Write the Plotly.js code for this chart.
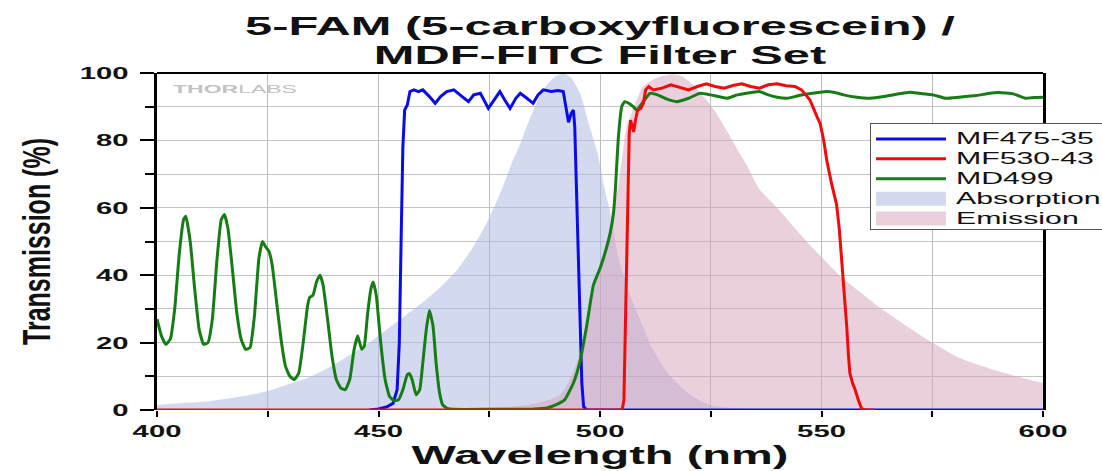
<!DOCTYPE html>
<html><head><meta charset="utf-8">
<script src="https://cdn.plot.ly/plotly-3.0.1.min.js"></script>
<style>html,body{margin:0;padding:0;background:#fff;}#chart{width:1102px;height:471px;}</style>
</head><body><div id="chart"></div>
<script>
// ---- data: [wavelength nm, value %] ----
const absorption = [[400,1.5],[405,2],[411,2.5],[415,3.2],[419,4],[423,5],[426,6],[430,7.8],[434,9.5],[438,12],[441,14.3],[445,17.5],[449,21],[453,25],[456,28],[460,32],[464,36.5],[468,42],[471.4,48.5],[475,57],[478,66],[480,73],[482,79],[484,86],[486,92],[488,96.5],[490,99],[491.7,100],[493.5,98.5],[495.5,94],[497.7,84],[499.5,76],[501,66],[502.6,57],[504,46],[506,37],[508,30],[509.7,24.7],[511.5,19],[513.5,14.5],[515.5,10.5],[517.3,8],[519,6],[521,4],[523,2.5],[524.8,1.5],[528,0.8],[535,0.3],[545,0.1],[560,0],[600,0]];
const emission = [[400,0],[440,0],[460,0.2],[470,0.4],[475,0.6],[480,1],[485,1.8],[488,2.8],[491,4.5],[493.2,9],[495.5,17],[497,25],[498.5,34.6],[500,43],[502,53],[503.8,64],[505,75],[506,84],[508,91],[509.7,96],[512,98],[514,99],[516.5,99.6],[518.5,99],[520.5,97],[522,95],[524,92],[526.3,88],[529,82],[531.6,76],[533,73],[536,65.5],[540,60],[543.6,54.5],[547,49.5],[550.3,45],[554,40],[558.7,35],[563,30.5],[568,26],[575,20],[581,15.5],[588.7,12],[594,10],[600,8]];
const mf475 = [[448,0],[450,0.3],[452,1],[453.3,2],[454.2,6],[454.7,20],[455.1,50],[455.5,78],[455.9,89],[456.5,90.5],[457.1,94.5],[458,95],[459,94.5],[460,95],[461.5,93],[462.8,91],[464,93],[465.4,94.5],[467,95],[468.5,93.5],[470.3,91.5],[471.5,93.5],[473,94],[474.8,89.5],[476,92],[477.4,94.5],[478.5,92],[479.7,89.5],[481,92.5],[482,94],[483.5,92.5],[484.9,91],[486,93.5],[487.2,95],[489,94.5],[490.5,94.8],[491.7,94.5],[492.5,89],[492.9,85.4],[493.5,88],[494,89],[494.3,84],[494.7,64],[495.1,45],[495.5,25],[495.9,8],[496.3,1],[497,0],[600,0]];
const mf530 = [[400,0],[505,0],[505.4,3],[505.8,30],[506.2,60],[506.6,82],[506.9,86],[507.3,84],[507.6,82.5],[508,86],[508.5,89],[509.2,89.5],[509.8,91],[510.3,95],[511,96],[512,95],[514,95.5],[516,96.5],[518,95.8],[520,95],[522,96],[524,96.8],[526,96],[528,95.5],[530,96.3],[532,96.8],[534,96],[536,95.5],[538,96.5],[540,96.8],[542,96.2],[544,96],[545.5,95],[547.4,92],[549,87],[549.7,85],[550.5,80],[551.2,74],[552.3,67],[553.4,61],[554,54],[554.6,44.5],[555.2,34],[555.7,24.7],[556.1,16],[556.4,11],[557,8],[557.6,6],[558.3,3],[559.1,0.3],[560,0],[562,0]];
const md499 = [[400,27],[401,22],[402,19.5],[403,21],[404,30],[405,46],[406,56.5],[406.5,57.5],[407.5,50],[408.5,36],[409.5,24],[410.5,19.5],[411.5,20],[412.5,27],[413.5,44],[414.5,56.5],[415.2,58],[416,54],[417,42],[418,29],[419,21],[420,18],[421,18.5],[422,28],[423,45],[423.8,50],[424.5,48.5],[425.3,47],[426,43],[427,32],[428,21],[429,13],[430,10],[431,9],[432,11],[433,20],[434,31],[434.5,33.5],[435.2,34],[436,38],[436.8,40],[437.5,37],[438.5,27],[439.5,16],[440.5,9],[441.5,6.5],[442.5,6],[443.5,9],[444.5,18],[445.3,22],[446.2,18],[446.8,19],[447.5,28],[448.3,36],[448.8,38],[449.5,34],[450.5,20],[451.5,9],[452.5,4],[453.5,2.8],[454.5,3],[455.5,6],[456.5,10.5],[457,10.8],[457.6,9],[458.5,4.5],[459.3,6],[460,14],[460.8,24],[461.5,29.5],[462.3,25],[463,14],[463.8,5],[464.5,1.5],[465.5,0.5],[467,0.2],[475,0.2],[485,0.3],[488,0.6],[490,1.5],[492,3],[494,8],[495.5,14.5],[497,25],[498.5,37],[500,42],[501,46],[502.3,52.5],[503,58],[503.5,66],[504.1,80],[504.9,90],[505.6,91.5],[506.5,91],[507.5,90],[508.3,89],[509.5,91],[511.3,94],[513,93.5],[515,92.3],[517.3,91.5],[520,92.5],[522.6,94],[525,93.5],[528.6,92.5],[531,93.5],[533,94],[536,94.5],[538,93.5],[540,92.8],[542.3,92.5],[544,93],[546,93.6],[548,94],[551.2,94.5],[553,94.2],[555,93.5],[558,92.8],[561,92.5],[564,93],[566,93.5],[568.4,94],[570,94.3],[572,94],[575.2,93.5],[578,92.5],[581,92.8],[585,93.3],[588,94],[590,94.2],[593.3,93.8],[596,92.5],[598,92.7],[600,92.8]];
const xTickVals = [400,450,500,550,600];
const yTickVals = [0,20,40,60,80,100];
const names = {a:'Absorption', e:'Emission', b:'MF475-35', r:'MF530-43', g:'MD499'};

const X = d => d.map(p => p[0]);
const Y = d => d.map(p => p[1]);
const FONT = 'Liberation Sans, Arial, Helvetica, sans-serif';

const traces = [
  {x:X(absorption), y:Y(absorption), name:names.a, type:'scatter', mode:'lines', fill:'tozeroy',
   fillcolor:'rgba(168,182,226,0.5)', line:{width:0, shape:'spline', smoothing:0.5, color:'rgba(168,182,226,0.5)'}, legendrank:4, hoverinfo:'skip'},
  {x:X(emission), y:Y(emission), name:names.e, type:'scatter', mode:'lines', fill:'tozeroy',
   fillcolor:'rgba(214,160,186,0.5)', line:{width:0, shape:'spline', smoothing:0.5, color:'rgba(214,160,186,0.5)'}, legendrank:5, hoverinfo:'skip'},
  {x:X(mf475), y:Y(mf475), name:names.b, type:'scatter', mode:'lines', line:{color:'rgb(10,10,235)', width:3}, legendrank:1},
  {x:X(md499), y:Y(md499), name:names.g, type:'scatter', mode:'lines', line:{color:'rgb(22,125,22)', width:3, shape:'spline', smoothing:0.4}, legendrank:3},
  {x:X(mf530), y:Y(mf530), name:names.r, type:'scatter', mode:'lines', line:{color:'rgb(240,10,10)', width:3}, legendrank:2}
];

const layout = {
  width:1102, height:471,
  margin:{l:157, r:59, t:73, b:61, pad:0},
  paper_bgcolor:'#fff', plot_bgcolor:'#fff',
  font:{family:FONT, color:'#111'},
  showlegend:true,
  title:{text:'5-FAM (5-carboxyfluorescein) /<br>MDF-FITC Filter Set',
    font:{family:FONT, size:25, weight:'bold', color:'#111'},
    x:0.5, xref:'paper', xanchor:'center', y:1, yref:'container', yanchor:'top', pad:{t:8}},
  xaxis:{range:[400,600], tickvals:xTickVals, ticktext:xTickVals.map(String),
    showgrid:true, gridcolor:'#bcbcbc', gridwidth:1, zeroline:false,
    showline:false, ticks:'outside', ticklen:6, tickwidth:2, tickcolor:'#000',
    tickfont:{family:FONT, size:17, weight:'bold', color:'#111'},
    minor:{dtick:25, tick0:400, showgrid:true, gridcolor:'#bcbcbc', gridwidth:1, ticks:'outside', ticklen:6, tickwidth:2, tickcolor:'#000'},
    title:{text:'Wavelength (nm)', font:{family:FONT, size:25, weight:'bold', color:'#111'}, standoff:2}},
  yaxis:{range:[0,100], tickvals:yTickVals, ticktext:yTickVals.map(String),
    showgrid:true, gridcolor:'#c4c4c4', gridwidth:1, zeroline:false,
    showline:true, linecolor:'#000', linewidth:3, mirror:true,
    ticks:'outside', ticklen:14, tickwidth:2, tickcolor:'#000', ticklabelstandoff:8,
    tickfont:{family:FONT, size:17, weight:'bold', color:'#111'},
    minor:{dtick:10, showgrid:true, gridcolor:'#c4c4c4', gridwidth:1, ticks:'outside', ticklen:9, tickwidth:2, tickcolor:'#000'},
    title:{text:'Transmission (%)', font:{family:FONT, size:25, weight:'bold', color:'#111'}, standoff:43}},
  shapes:[{type:'line', xref:'paper', yref:'paper', x0:0, x1:1, y0:1, y1:1, line:{color:'#000', width:2}}],
  annotations:[{xref:'paper', yref:'paper', x:0.088, y:0.95, xanchor:'center', yanchor:'middle', showarrow:false,
    text:'<b>THOR</b>LABS', font:{family:FONT, size:10, color:'#c2c2c2'}}],
  legend:{x:0.8047, y:0.8516, xanchor:'left', yanchor:'top', bgcolor:'#fff', bordercolor:'#555', borderwidth:1,
    font:{family:FONT, size:13, color:'#111'}, traceorder:'normal'}
};

function stretch(el, f) {
  if (!el || el.getAttribute('data-st')) return 0;
  const len = el.getComputedTextLength();
  if (!len) return 0;
  el.setAttribute('textLength', (len * f).toFixed(1));
  el.setAttribute('lengthAdjust', 'spacingAndGlyphs');
  el.setAttribute('data-st', '1');
  return len * f;
}

function tweak() {
  const gd = document.getElementById('chart');
  // title lines: stretch, set line spacing, place first baseline
  const tt = gd.querySelector('text.gtitle');
  if (tt && !tt.getAttribute('data-done')) {
    const lines = tt.querySelectorAll('tspan.line');
    if (lines.length) {
      lines.forEach((ln, i) => { if (i > 0) ln.setAttribute('dy', '29px'); stretch(ln, 1.95); });
    } else stretch(tt, 1.95);
    const top = tt.getBoundingClientRect().top;
    const shift = 11.5 - top;
    tt.setAttribute('transform', ((tt.getAttribute('transform') || '') + ` translate(0,${shift.toFixed(1)})`).trim());
    tt.setAttribute('data-done', '1');
  }
  gd.querySelectorAll('g.xtick text, g.ytick text').forEach(t => stretch(t, 1.72));
  stretch(gd.querySelector('text.xtitle'), 1.88);
  const yt = gd.querySelector('text.ytitle');
  if (yt && !yt.getAttribute('data-st')) {
    const x = +yt.getAttribute('x'), y = +yt.getAttribute('y');
    const tr = yt.getAttribute('transform') || '';
    yt.setAttribute('transform', tr + ` translate(${x},${y}) scale(1,1.55) translate(${-x},${-y})`);
    yt.setAttribute('data-st', '1');
  }
  gd.querySelectorAll('.annotation-text').forEach(t => stretch(t, 2.3));
  // legend
  const lg = gd.querySelector('g.legend');
  if (lg && !lg.getAttribute('data-st')) {
    const F = 1.78, TX = 85, LINE = 70, FS = 17;
    let maxR = 0;
    lg.querySelectorAll('g.traces').forEach(tr => {
      const t = tr.querySelector('text.legendtext');
      if (t) {
        t.style.fontSize = FS + 'px';
        t.setAttribute('x', TX);
        const w = stretch(t, F);
        maxR = Math.max(maxR, TX + w);
      }
      tr.querySelectorAll('.legendlines path').forEach(p => p.setAttribute('d', 'M5,0h' + LINE));
      tr.querySelectorAll('.legendfill path').forEach(p => p.setAttribute('d', 'M5,-7h' + LINE + 'v14h-' + LINE + 'z'));
    });
    const W = maxR + 6;
    const bg = lg.querySelector('rect.bg');
    if (bg) {
      bg.setAttribute('width', W);
      const h = +bg.getAttribute('height');
      if (h) bg.setAttribute('height', h - 5);
    }
    lg.querySelectorAll('rect.legendtoggle').forEach(r => r.setAttribute('width', W));
    const sb = lg.querySelector('g.scrollbox');
    if (sb) {
      const cp = sb.getAttribute('clip-path') || '';
      const m = cp.match(/#([^)"']+)/);
      if (m) { const c = document.getElementById(m[1]); if (c) { const r = c.querySelector('rect'); if (r) r.setAttribute('width', W); } }
    }
    lg.setAttribute('data-st', '1');
  }
}

Plotly.newPlot('chart', traces, layout, {displayModeBar:false, staticPlot:true}).then(gd => {
  tweak();
  gd.on('plotly_afterplot', tweak);
});
</script></body></html>
